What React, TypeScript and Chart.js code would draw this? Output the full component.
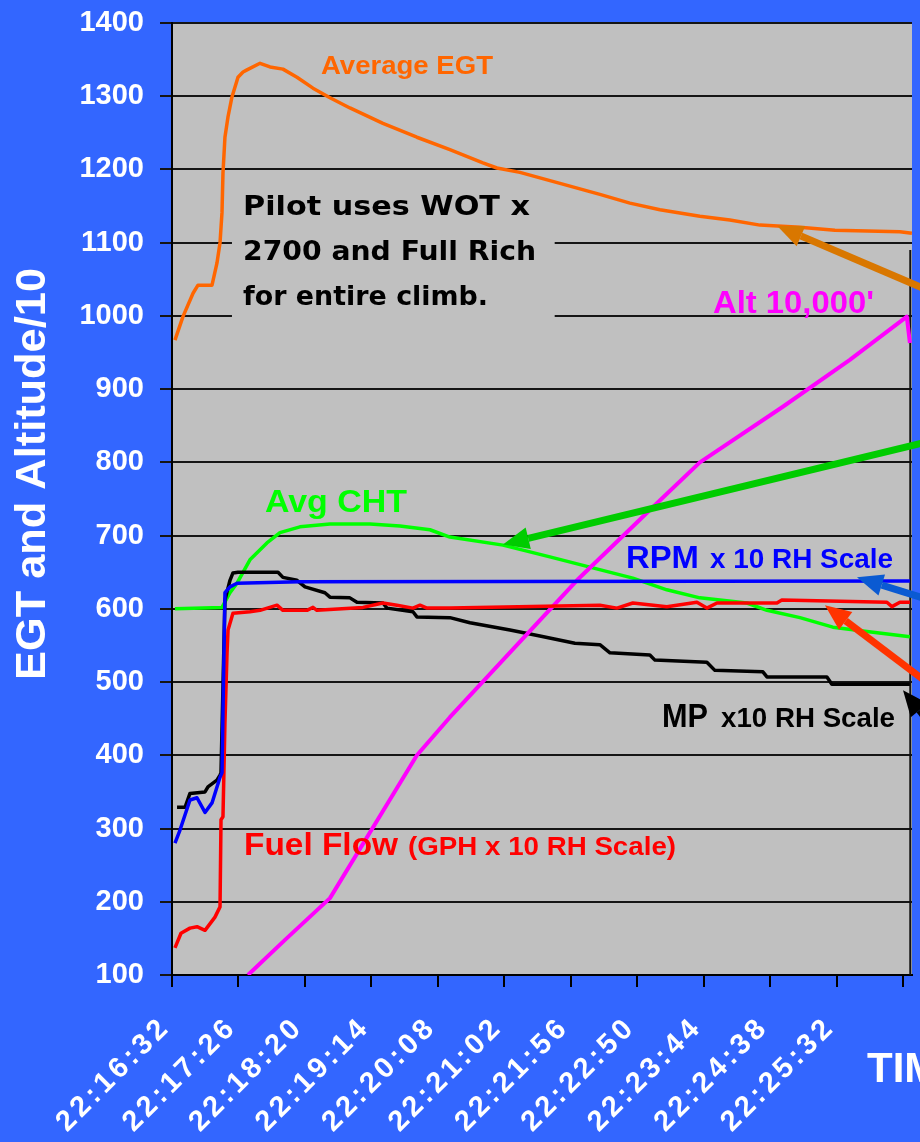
import React, { useEffect, useRef } from 'react';
import { Chart, registerables } from 'chart.js';

Chart.register(...registerables);

const SANS = '"Liberation Sans", Arial, Helvetica, sans-serif';
const WIDE = '"DejaVu Sans", Verdana, sans-serif';

// Time axis: seconds elapsed since 22:16:32
const xTickSeconds = [0, 54, 108, 162, 216, 270, 324, 378, 432, 486, 540, 594];
const xTickLabels = ['22:16:32', '22:17:26', '22:18:20', '22:19:14', '22:20:08', '22:21:02', '22:21:56', '22:22:50', '22:23:44', '22:24:38', '22:25:32'];
const xMaxSeconds = 601;
const yMin = 100;
const yMax = 1400;
const yStep = 100;

// Average EGT
const egtSeconds = [2.4, 8.9, 17.1, 21.1, 32.5, 36.5, 39.0, 40.6, 41.4, 43.0, 45.5, 48.7, 53.6, 57.7, 60.9, 71.5, 79.6, 90.1, 101.5, 114.5, 128.3, 144.5, 171.3, 198.9, 225.7, 252.5, 263.9, 282.6, 315.1, 347.5, 371.9, 396.3, 428.7, 453.1, 477.5, 510.0, 538.4, 591.2, 600.9];
const egtValues = [967, 999, 1031, 1042, 1042, 1072, 1100, 1141, 1195, 1244, 1272, 1299, 1326, 1333, 1336, 1345, 1340, 1337, 1326, 1311, 1298, 1284, 1263, 1244, 1227, 1209, 1202, 1196, 1181, 1166, 1154, 1145, 1136, 1131, 1124, 1121, 1117, 1115, 1113];

// Avg CHT
const chtSeconds = [2.4, 40.6, 47.1, 52.8, 63.3, 77.1, 87.7, 103.9, 128.3, 160.8, 185.1, 209.5, 225.7, 268.8, 306.9, 339.4, 374.3, 401.9, 428.7, 466.9, 483.2, 510.0, 536.7, 564.4, 599.3];
const chtValues = [600, 602, 622, 635, 667, 690, 704, 712, 716, 716, 713, 708, 698, 687, 671, 657, 642, 626, 615, 608, 598, 588, 575, 569, 562];

// Altitude / 10
const altSeconds = [61.7, 91.8, 128.3, 198.9, 225.7, 328.9, 388.1, 428.7, 496.1, 550.5, 596.8, 599.3];
const altValues = [100, 148, 205, 400, 452, 639, 735, 800, 876, 940, 999, 963];

// RPM x 10 (RH scale)
const rpmSeconds = [2.4, 6.5, 14.6, 20.3, 26.8, 32.5, 39.0, 40.6, 41.4, 42.2, 43.0, 47.1, 52.8, 103.9, 599.3];
const rpmValues = [280, 298, 339, 342, 322, 335, 370, 376, 458, 540, 622, 630, 635, 637, 638];

// MP x 10 (RH scale)
const mpSeconds = [4.1, 10.6, 14.6, 26.8, 29.2, 36.5, 39.0, 39.8, 43.0, 47.1, 49.5, 53.6, 86.1, 90.1, 101.5, 108.0, 124.2, 128.3, 144.5, 150.2, 171.3, 174.6, 195.7, 198.9, 225.7, 242.0, 274.5, 298.8, 327.2, 347.5, 355.7, 388.1, 392.2, 434.4, 440.9, 479.9, 483.2, 531.9, 535.9, 599.3];
const mpValues = [329, 329, 348, 350, 357, 366, 373, 376, 612, 639, 649, 650, 650, 643, 639, 630, 622, 616, 615, 609, 608, 601, 596, 589, 588, 581, 571, 563, 553, 551, 540, 537, 530, 527, 516, 514, 507, 507, 497, 497];

// Fuel flow GPH x 10 (RH scale)
const ffSeconds = [2.4, 7.3, 14.6, 20.3, 26.8, 34.9, 39.0, 39.8, 41.4, 43.0, 44.7, 45.5, 49.5, 63.3, 71.5, 85.3, 90.1, 109.6, 114.5, 117.7, 155.1, 171.3, 182.7, 195.7, 201.4, 207.1, 225.7, 347.5, 361.4, 374.3, 401.9, 426.3, 434.4, 442.6, 491.3, 495.3, 580.6, 584.7, 591.2, 599.3];
const ffValues = [137, 157, 164, 166, 161, 179, 193, 312, 316, 444, 540, 571, 594, 596, 598, 605, 598, 598, 602, 598, 602, 608, 605, 601, 605, 601, 601, 605, 601, 608, 603, 609, 601, 608, 608, 612, 609, 603, 609, 609];

// Annotation arrows (tail -> tip, in axis units: seconds, left-scale value)
const arrowTailSec = [672.5, 672.5, 672.5, 672.5, 672.5];
const arrowTailVal = [993, 852, 582, 424, 325];
const arrowTipSec = [491.4, 268.8, 556.3, 530.3, 593.7];
const arrowTipVal = [1123, 688, 643, 605, 489];
const arrowColors = ['#D97700', '#00CC00', '#0A5AD2', '#FF3300', '#000000'];

type Note = { text: string; sec: number; val: number; size: number; width?: number; color: string; family?: string };
const notes: Note[] = [
  { text: 'Average EGT', sec: 121.0, val: 1330, size: 26, width: 172, color: '#FF6600' },
  { text: 'Pilot uses WOT x', sec: 57.7, val: 1138, size: 27, width: 287, color: '#000000', family: WIDE },
  { text: '2700 and Full Rich', sec: 57.7, val: 1076, size: 27, width: 293, color: '#000000', family: WIDE },
  { text: 'for entire climb.', sec: 57.7, val: 1015, size: 27, width: 245, color: '#000000', family: WIDE },
  { text: "Alt 10,000'", sec: 439.4, val: 1004, size: 31, width: 161, color: '#FF00FF' },
  { text: 'Avg CHT', sec: 75.5, val: 732, size: 31, width: 142, color: '#00FF00' },
  { text: 'RPM', sec: 368.7, val: 656, size: 32, width: 73, color: '#0000FF' },
  { text: 'x 10 RH Scale', sec: 436.9, val: 656, size: 28, width: 183, color: '#0000FF' },
  { text: 'MP', sec: 398.0, val: 439, size: 33, width: 46, color: '#000000' },
  { text: 'x10 RH Scale', sec: 445.9, val: 439, size: 28, width: 174, color: '#000000' },
  { text: 'Fuel Flow', sec: 58.5, val: 264, size: 32, width: 154, color: '#FF0000' },
  { text: '(GPH x 10 RH Scale)', sec: 191.7, val: 264, size: 26, width: 268, color: '#FF0000' },
];

function drawArrow(ctx: CanvasRenderingContext2D, x1: number, y1: number, x2: number, y2: number, color: string) {
  const ang = Math.atan2(y2 - y1, x2 - x1);
  const headLen = 26;
  const headHalf = 11;
  const bx = x2 - headLen * Math.cos(ang);
  const by = y2 - headLen * Math.sin(ang);
  ctx.save();
  ctx.strokeStyle = color;
  ctx.lineWidth = 7;
  ctx.lineCap = 'butt';
  ctx.beginPath();
  ctx.moveTo(x1, y1);
  ctx.lineTo(bx, by);
  ctx.stroke();
  ctx.fillStyle = color;
  ctx.beginPath();
  ctx.moveTo(x2, y2);
  ctx.lineTo(bx + headHalf * Math.sin(ang), by - headHalf * Math.cos(ang));
  ctx.lineTo(bx - headHalf * Math.sin(ang), by + headHalf * Math.cos(ang));
  ctx.closePath();
  ctx.fill();
  ctx.restore();
}

function drawNote(ctx: CanvasRenderingContext2D, text: string, x: number, y: number, size: number, color: string, family: string, width?: number) {
  ctx.save();
  ctx.font = `bold ${size}px ${family}`;
  ctx.fillStyle = color;
  ctx.textAlign = 'left';
  ctx.textBaseline = 'alphabetic';
  const w = ctx.measureText(text).width;
  ctx.translate(x, y);
  if (width) ctx.scale(width / w, 1);
  ctx.fillText(text, 0, 0);
  ctx.restore();
}

const decor = {
  id: 'decor',
  beforeDraw(chart: any) {
    const { ctx, chartArea: a } = chart;
    ctx.save();
    ctx.fillStyle = '#3366FF';
    ctx.fillRect(0, 0, chart.width, chart.height);
    ctx.fillStyle = '#C0C0C0';
    ctx.fillRect(a.left, a.top, a.right - a.left, a.bottom - a.top);
    ctx.restore();
    const xs = chart.scales.x;
    if (xs && !xs._spaced) {
      const orig = xs.drawLabels.bind(xs);
      xs.drawLabels = (area: any) => {
        const c = chart.ctx as any;
        c.save();
        c.letterSpacing = '4px';
        orig(area);
        c.restore();
      };
      xs._spaced = true;
    }
  },
  beforeDatasetsDraw(chart: any) {
    const { ctx } = chart;
    const xs = chart.scales.x;
    const ys = chart.scales.y;
    // text box background hiding grid lines
    const l = xs.getPixelForValue(48.7);
    const r = xs.getPixelForValue(310.8);
    const t = ys.getPixelForValue(1183);
    const b = ys.getPixelForValue(983);
    ctx.save();
    ctx.fillStyle = '#C0C0C0';
    ctx.fillRect(l, t, r - l, b - t);
    // right frame
    ctx.strokeStyle = '#111';
    ctx.lineWidth = 2;
    ctx.beginPath();
    ctx.moveTo(xs.getPixelForValue(599.6), ys.getPixelForValue(1090));
    ctx.lineTo(xs.getPixelForValue(599.6), ys.getPixelForValue(yMin));
    ctx.stroke();
    ctx.restore();
  },
  afterDatasetsDraw(chart: any) {
    const { ctx } = chart;
    const xs = chart.scales.x;
    const ys = chart.scales.y;
    for (let i = 0; i < arrowColors.length; i++) {
      drawArrow(
        ctx,
        xs.getPixelForValue(arrowTailSec[i]), ys.getPixelForValue(arrowTailVal[i]),
        xs.getPixelForValue(arrowTipSec[i]), ys.getPixelForValue(arrowTipVal[i]),
        arrowColors[i]
      );
    }
    for (const n of notes) {
      drawNote(ctx, n.text, xs.getPixelForValue(n.sec), ys.getPixelForValue(n.val), n.size, n.color, n.family || SANS, n.width);
    }
    // axis titles
    ctx.save();
    ctx.fillStyle = '#FFFFFF';
    ctx.font = `bold 43px ${SANS}`;
    ctx.textAlign = 'center';
    ctx.textBaseline = 'middle';
    const yt = 'EGT and Altitude/10';
    const w = ctx.measureText(yt).width;
    ctx.translate(33, 474);
    ctx.rotate(-Math.PI / 2);
    ctx.scale(412 / w, 1);
    ctx.fillText(yt, 0, 0);
    ctx.restore();
    ctx.save();
    ctx.fillStyle = '#FFFFFF';
    ctx.font = `bold 42px ${SANS}`;
    ctx.textAlign = 'left';
    ctx.textBaseline = 'alphabetic';
    ctx.fillText('TIME', 867, 1082);
    ctx.restore();
  },
};

function series(label: string, secs: number[], vals: number[], color: string, width = 3.5) {
  return {
    label,
    data: secs.map((s, i) => ({ x: s, y: vals[i] })),
    borderColor: color,
    backgroundColor: color,
    borderWidth: width,
    borderJoinStyle: 'round' as const,
    pointRadius: 0,
    fill: false,
    tension: 0,
  };
}

export default function App() {
  const ref = useRef<HTMLCanvasElement>(null);
  useEffect(() => {
    document.body.style.margin = '0';
    const canvas = ref.current!;
    const tickFont = { family: SANS, size: 29, weight: 'bold' as const };
    const chart = new Chart(canvas, {
      type: 'line',
      data: {
        datasets: [
          series('RPM x 10', rpmSeconds, rpmValues, '#0000FF'),
          series('Fuel Flow GPH x 10', ffSeconds, ffValues, '#FF0000'),
          series('Altitude/10', altSeconds, altValues, '#FF00FF', 4),
          series('MP x 10', mpSeconds, mpValues, '#000000'),
          series('Avg CHT', chtSeconds, chtValues, '#00FF00'),
          series('Average EGT', egtSeconds, egtValues, '#FF6600'),
        ],
      },
      options: {
        responsive: false,
        animation: false,
        devicePixelRatio: 1,
        layout: { padding: { top: 23, right: 8, left: 0, bottom: 0 } },
        plugins: { legend: { display: false }, tooltip: { enabled: false }, title: { display: false } },
        scales: {
          x: {
            type: 'linear',
            min: 0,
            max: xMaxSeconds,
            afterBuildTicks: (s: any) => {
              s.ticks = xTickSeconds.map((v) => ({ value: v }));
            },
            afterFit: (s: any) => {
              s.height = 167;
              s.paddingRight = 0;
              s.paddingLeft = 0;
            },
            grid: { drawOnChartArea: false, drawTicks: true, tickLength: 12, color: '#000', lineWidth: 2 },
            border: { display: true, color: '#000', width: 2 },
            ticks: {
              autoSkip: false,
              maxRotation: 45,
              minRotation: 45,
              padding: 23,
              labelOffset: -6,
              color: '#FFFFFF',
              font: tickFont,
              callback: (_v: any, i: number) => xTickLabels[i] ?? '',
            },
          },
          y: {
            min: yMin,
            max: yMax,
            afterFit: (s: any) => {
              s.width = 172;
              s.paddingTop = 0;
              s.paddingBottom = 0;
            },
            grid: { color: '#151515', lineWidth: 2, tickLength: 12 },
            border: { color: '#000', width: 2 },
            ticks: { stepSize: yStep, padding: 16, color: '#FFFFFF', font: tickFont, callback: (v: any) => String(v) },
          },
        },
      },
      plugins: [decor],
    } as any);
    return () => chart.destroy();
  }, []);
  return (
    <div style={{ width: 920, height: 1142, overflow: 'hidden' }}>
      <canvas ref={ref} width={920} height={1142} style={{ display: 'block', width: 920, height: 1142 }} />
    </div>
  );
}
